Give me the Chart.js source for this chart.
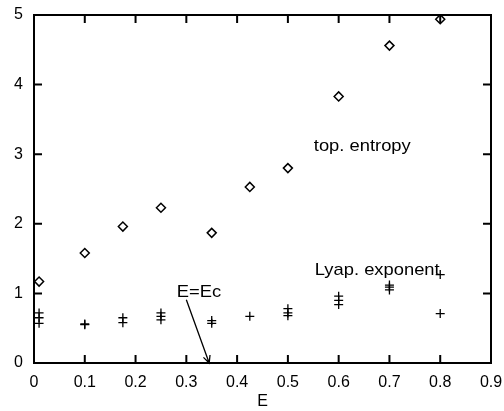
<!DOCTYPE html>
<html><head><meta charset="utf-8">
<script src="https://cdn.jsdelivr.net/npm/chart.js@4/dist/chart.umd.min.js"></script>
<style>html,body{margin:0;padding:0;background:#fff}#wrap{width:504px;height:411px}</style>
</head><body><div id="wrap"><canvas id="c" width="504" height="411"></canvas></div>
<script>
// ---- data ----
const entropyE = [0.01, 0.1, 0.175, 0.25, 0.35, 0.425, 0.5, 0.6, 0.7, 0.8];
const entropyH = [1.17, 1.58, 1.96, 2.23, 1.87, 2.53, 2.80, 3.83, 4.56, 4.94];
const lyapE = [0.01, 0.01, 0.01, 0.1, 0.1, 0.175, 0.175, 0.25, 0.25, 0.25, 0.35, 0.35, 0.425, 0.5, 0.5, 0.5, 0.6, 0.6, 0.6, 0.7, 0.7, 0.7, 0.8, 0.8];
const lyapL = [0.72, 0.65, 0.57, 0.56, 0.55, 0.65, 0.58, 0.72, 0.67, 0.62, 0.61, 0.57, 0.67, 0.78, 0.72, 0.68, 0.96, 0.90, 0.84, 1.12, 1.09, 1.05, 1.27, 0.71];
const xTickValues = [0, 0.1, 0.2, 0.3, 0.4, 0.5, 0.6, 0.7, 0.8, 0.9];
const yTickValues = [0, 1, 2, 3, 4, 5];
const xTitle = 'E';
const annotationTexts = ['top. entropy', 'Lyap. exponent', 'E=Ec'];
const annotationAt = [[0.551, 3.12], [0.553, 1.33], [0.281, 1.01]];
const arrowFrom = [0.30, 0.91];
const arrowTo = [0.345, 0.0];

const FONT = '"Liberation Sans", Arial, Helvetica, sans-serif';

const framePlugin = {
  id: 'frame',
  afterDatasetsDraw(chart) {
    const ctx = chart.ctx, a = chart.chartArea;
    const xs = chart.scales.x, ys = chart.scales.y;
    ctx.save();
    ctx.strokeStyle = '#000';
    ctx.lineWidth = 2;
    ctx.strokeRect(a.left, a.top, a.right - a.left, a.bottom - a.top);
    const tl = 8;
    ctx.beginPath();
    xTickValues.forEach(v => {
      const px = xs.getPixelForValue(v);
      if (px <= a.left + 1 || px >= a.right - 1) return;
      ctx.moveTo(px, a.bottom); ctx.lineTo(px, a.bottom - tl);
      ctx.moveTo(px, a.top); ctx.lineTo(px, a.top + tl);
    });
    yTickValues.forEach(v => {
      const py = ys.getPixelForValue(v);
      if (py <= a.top + 1 || py >= a.bottom - 1) return;
      ctx.moveTo(a.left, py); ctx.lineTo(a.left + tl, py);
      ctx.moveTo(a.right, py); ctx.lineTo(a.right - tl, py);
    });
    ctx.stroke();
    // annotations
    ctx.fillStyle = '#000';
    ctx.font = '17px ' + FONT;
    ctx.textBaseline = 'middle';
    ctx.textAlign = 'left';
    annotationTexts.forEach((t, i) => {
      const px = xs.getPixelForValue(annotationAt[i][0]);
      const py = ys.getPixelForValue(annotationAt[i][1]);
      ctx.save();
      ctx.translate(px, py);
      ctx.scale(1.08, 1);
      ctx.fillText(t, 0, 0);
      ctx.restore();
    });
    // arrow
    const x1 = xs.getPixelForValue(arrowFrom[0]), y1 = ys.getPixelForValue(arrowFrom[1]);
    const x2 = xs.getPixelForValue(arrowTo[0]), y2 = ys.getPixelForValue(arrowTo[1]);
    ctx.lineWidth = 1.3;
    ctx.beginPath();
    ctx.moveTo(x1, y1); ctx.lineTo(x2, y2);
    const ang = Math.atan2(y2 - y1, x2 - x1), hl = 8, ha = 0.45;
    ctx.moveTo(x2 - hl * Math.cos(ang - ha), y2 - hl * Math.sin(ang - ha));
    ctx.lineTo(x2, y2);
    ctx.lineTo(x2 - hl * Math.cos(ang + ha), y2 - hl * Math.sin(ang + ha));
    ctx.stroke();
    ctx.restore();
  }
};

new Chart(document.getElementById('c'), {
  type: 'scatter',
  data: {
    datasets: [
      {
        label: 'top. entropy',
        data: entropyE.map((e, i) => ({x: e, y: entropyH[i]})),
        pointStyle: 'rectRot', radius: 4.5, borderWidth: 1.5,
        borderColor: '#000', backgroundColor: '#fff'
      },
      {
        label: 'Lyap. exponent',
        data: lyapE.map((e, i) => ({x: e, y: lyapL[i]})),
        pointStyle: 'cross', radius: 4.5, borderWidth: 1.3,
        borderColor: '#000', backgroundColor: '#000'
      }
    ]
  },
  options: {
    responsive: false,
    devicePixelRatio: 1,
    animation: false,
    layout: { padding: { top: 15, right: 13, left: 0, bottom: 0 } },
    plugins: { legend: { display: false }, tooltip: { enabled: false } },
    scales: {
      x: {
        type: 'linear', min: 0, max: 0.9,
        afterBuildTicks: s => { s.ticks = xTickValues.map(v => ({value: v})); },
        afterFit: s => { s.height = 48; s.paddingLeft = 0; s.paddingRight = 0; },
        grid: { display: false, drawTicks: false },
        border: { display: false },
        ticks: { color: '#000', padding: 10, maxRotation: 0, autoSkip: false,
                 font: { family: FONT, size: 16 },
                 callback: v => (Math.round(v * 10) / 10).toString() },
        title: { display: true, text: xTitle, color: '#000', padding: { top: 0, bottom: 0 },
                 font: { family: FONT, size: 16 } }
      },
      y: {
        type: 'linear', min: 0, max: 5,
        afterBuildTicks: s => { s.ticks = yTickValues.map(v => ({value: v})); },
        afterFit: s => { s.width = 34; s.paddingTop = 0; s.paddingBottom = 0; },
        grid: { display: false, drawTicks: false },
        border: { display: false },
        ticks: { color: '#000', padding: 11, font: { family: FONT, size: 16 } }
      }
    }
  },
  plugins: [framePlugin]
});
</script>
</body></html>
